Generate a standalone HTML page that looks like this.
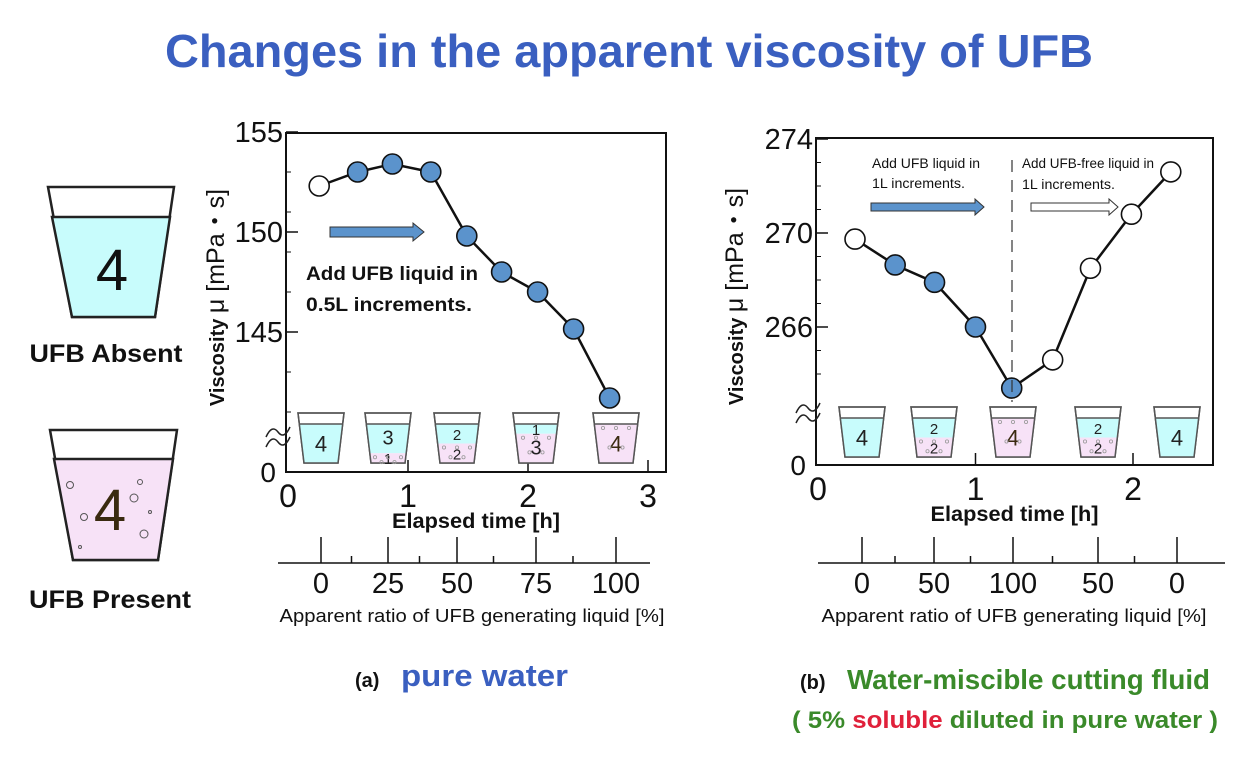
<!DOCTYPE html>
<html><head><meta charset="utf-8">
<style>
html,body{margin:0;padding:0;background:#fff;}
svg{display:block;font-family:"Liberation Sans",sans-serif;}
</style></head>
<body>
<svg id="fig" width="1256" height="776" viewBox="0 0 1256 776" xmlns="http://www.w3.org/2000/svg">
<text x="629" y="67" text-anchor="middle" font-size="46" font-weight="bold" fill="#3a5fc0" textLength="928" lengthAdjust="spacingAndGlyphs">Changes in the apparent viscosity of UFB</text>

<g>
<polygon points="48,187 174,187 155,317 72,317" fill="#fff" stroke="#222" stroke-width="2.5"/>
<polygon points="52,217 170,217 155,317 72,317" fill="#c8fcfc" stroke="#222" stroke-width="2.5"/>
<text x="112" y="290" text-anchor="middle" font-size="58" fill="#111">4</text>
</g>
<text x="106" y="362" text-anchor="middle" font-size="25" font-weight="bold" fill="#111" textLength="153" lengthAdjust="spacingAndGlyphs">UFB Absent</text>
<g>
<polygon points="50,430 177,430 158,560 73,560" fill="#fff" stroke="#222" stroke-width="2.5"/>
<polygon points="54,459 173,459 158,560 73,560" fill="#f7e2f7" stroke="#222" stroke-width="2.5"/>
<text x="110" y="530" text-anchor="middle" font-size="58" fill="#3a2a10">4</text>
<g fill="none" stroke="#555" stroke-width="1">
<circle cx="70" cy="485" r="3.5"/><circle cx="140" cy="482" r="2.5"/><circle cx="134" cy="498" r="4"/><circle cx="84" cy="517" r="3.5"/><circle cx="150" cy="512" r="1.5"/><circle cx="144" cy="534" r="4"/><circle cx="80" cy="547" r="1.5"/>
</g>
</g>
<text x="110" y="608" text-anchor="middle" font-size="25" font-weight="bold" fill="#111" textLength="162" lengthAdjust="spacingAndGlyphs">UFB Present</text>

<g id="chartA"></g>
<g id="chartB"></g>

<text x="355" y="687" font-size="20" font-weight="bold" fill="#111">(a)</text>
<text x="401" y="686" font-size="31" font-weight="bold" fill="#3a5fc0" textLength="167" lengthAdjust="spacingAndGlyphs">pure water</text>
<text x="800" y="689" font-size="20" font-weight="bold" fill="#111">(b)</text>
<text x="847" y="689" font-size="28" font-weight="bold" fill="#3a8a2a" textLength="363" lengthAdjust="spacingAndGlyphs">Water-miscible cutting fluid</text>
<text x="792" y="728" font-size="24" font-weight="bold" fill="#3a8a2a" textLength="426" lengthAdjust="spacingAndGlyphs">( 5% <tspan fill="#e0203a">soluble</tspan> diluted in pure water )</text>
</svg>
<script>
// Chart A data
const timeA = [0.26, 0.58, 0.87, 1.19, 1.49, 1.78, 2.08, 2.38, 2.68];
const viscA = [152.3, 153.0, 153.4, 153.0, 149.8, 148.0, 147.0, 145.15, 141.7];
const filledA = [false, true, true, true, true, true, true, true, true];
const yTicksA = [155, 150, 145];
const xTicksA = [0, 1, 2, 3];
const ratioLabelsA = ["0", "25", "50", "75", "100"];
const cupBlueA = [4, 3, 2, 1, 0];
// Chart B data
const timeB = [0.235, 0.49, 0.74, 1.0, 1.23, 1.49, 1.73, 1.99, 2.24];
const viscB = [269.74, 268.64, 267.9, 266.0, 263.4, 264.6, 268.5, 270.8, 272.6];
const filledB = [false, true, true, true, true, false, false, false, false];
const yTicksB = [274, 270, 266];
const xTicksB = [0, 1, 2];
const ratioLabelsB = ["0", "50", "100", "50", "0"];
const cupBlueB = [4, 2, 0, 2, 4];

const NS = "http://www.w3.org/2000/svg";
function mk(parent, tag, attrs, text) {
  const e = document.createElementNS(NS, tag);
  for (const k in attrs) e.setAttribute(k, attrs[k]);
  if (text !== undefined) e.textContent = text;
  parent.appendChild(e);
  return e;
}
function drawCup(g, cx, top, bot, blue, name) {
  const cg = mk(g, "g", {});
  
  
  const wT = 23, wB = 17, liq = top + 11;
  mk(cg, "polygon", {points: `${cx-wT},${top} ${cx+wT},${top} ${cx+wB},${bot} ${cx-wB},${bot}`, fill: "#fff", stroke: "#555", "stroke-width": 1.5});
  const h = bot - liq;
  const split = liq + h * blue / 4;
  const wAt = y => wT - (wT - wB) * (y - top) / (bot - top);
  if (blue > 0) mk(cg, "polygon", {points: `${cx-wAt(liq)},${liq} ${cx+wAt(liq)},${liq} ${cx+wAt(split)},${split} ${cx-wAt(split)},${split}`, fill: "#c8fcfc"});
  if (blue < 4) mk(cg, "polygon", {points: `${cx-wAt(split)},${split} ${cx+wAt(split)},${split} ${cx+wB},${bot} ${cx-wB},${bot}`, fill: "#f7e2f7"});
  mk(cg, "polygon", {points: `${cx-wT},${top} ${cx+wT},${top} ${cx+wB},${bot} ${cx-wB},${bot}`, fill: "none", stroke: "#555", "stroke-width": 1.5});
  mk(cg, "line", {x1: cx-wAt(liq), y1: liq, x2: cx+wAt(liq), y2: liq, stroke: "#555", "stroke-width": 1.5});
  if (blue === 4 || blue === 0) {
    mk(cg, "text", {x: cx, y: liq + h/2 + 8, "text-anchor": "middle", "font-size": 22, fill: blue ? "#222" : "#3a2a10"}, "4");
  } else {
    mk(cg, "text", {x: cx, y: (liq + split)/2 + 6, "text-anchor": "middle", "font-size": blue>=3?20:15, fill: "#222"}, String(blue));
    mk(cg, "text", {x: cx, y: (split + bot)/2 + 6, "text-anchor": "middle", "font-size": blue<=1?20:15, fill: "#222"}, String(4 - blue));
  }
  if (blue < 4) {
    for (let i = 0; i < 5; i++) mk(cg, "circle", {cx: cx - 13 + i*6.5, cy: split + 4 + (i%2)*((bot-split)*0.5), r: 1.6, fill: "none", stroke: "#999", "stroke-width": 0.8});
  }
}
function squiggle(g, x, y) {
  const s = mk(g, "g", {});
  
  
  for (const dy of [-5, 5]) mk(s, "path", {d: `M${x-12},${y+dy+5} Q${x-6},${y+dy-8} ${x},${y+dy} T${x+12},${y+dy-5}`, fill: "none", stroke: "#222", "stroke-width": 1.5});
}

function drawChart(g, cfg) {
  const X = t => cfg.x0 + t * cfg.px;
  const Y = v => cfg.yRef - (v - cfg.vRef) * cfg.py;
  mk(g, "rect", {x: cfg.L, y: cfg.T, width: cfg.R - cfg.L, height: cfg.B - cfg.T, fill: "none", stroke: "#111", "stroke-width": 2});
  for (let v = cfg.yTicks[cfg.yTicks.length-1] - cfg.minorStep*2; v <= cfg.yTicks[0]; v += cfg.minorStep) {
    const y = Y(v); if (y < cfg.T || y > cfg.B - 30) continue;
    mk(g, "line", {x1: cfg.L, y1: y, x2: cfg.L + 5, y2: y, stroke: "#111", "stroke-width": 1});
  }
  cfg.yTicks.forEach(v => {
    const y = Y(v);
    const t = mk(g, "line", {x1: cfg.L, y1: y, x2: cfg.L + 12, y2: y, stroke: "#111", "stroke-width": 1.5});
    
    
    const l = mk(g, "text", {x: cfg.L - 3, y: y + 10, "text-anchor": "end", "font-size": 29, fill: "#111"}, String(v));
    
    
  });
  const z = mk(g, "text", {x: cfg.L - 10, y: cfg.B + 10, "text-anchor": "end", "font-size": 28, fill: "#111"}, "0");
  
  
  squiggle(g, cfg.L - 8, cfg.breakY);
  cfg.xTicks.forEach(t => {
    const x = X(t);
    if (t > 0 && x < cfg.R) mk(g, "line", {x1: x, y1: cfg.B, x2: x, y2: cfg.B - 12, stroke: "#111", "stroke-width": 1.5});
    const l = mk(g, "text", {x: x, y: cfg.B + 35, "text-anchor": "middle", "font-size": 32, fill: "#111"}, String(t));
    
    
  });
  const xt = mk(g, "text", {x: (cfg.L + cfg.R)/2, y: cfg.B + 56, "text-anchor": "middle", "font-size": 21, "font-weight": "bold", fill: "#111", textLength: 168, lengthAdjust: "spacingAndGlyphs"}, "Elapsed time [h]");
  
  
  const yt = mk(g, "text", {transform: `translate(${cfg.yTitleX},${(cfg.T+cfg.B)/2 - 5}) rotate(-90)`, "text-anchor": "middle", "font-size": 20, fill: "#111"});
  
  
  mk(yt, "tspan", {"font-weight": "bold"}, "Viscosity ");
  mk(yt, "tspan", {"font-size": 25}, "μ [mPa・s]");
  cfg.cupX.forEach((cx, i) => drawCup(g, cx, cfg.cupTop, cfg.cupBot, cfg.cupBlue[i], 'mixture-cup'));
  const pts = cfg.times.map((t, i) => `${X(t)},${Y(cfg.vals[i])}`).join(" ");
  const ln = mk(g, "polyline", {points: pts, fill: "none", stroke: "#111", "stroke-width": 2.5});
  
  
  cfg.times.forEach((t, i) => {
    const c = mk(g, "circle", {cx: X(t), cy: Y(cfg.vals[i]), r: 10, fill: cfg.filled[i] ? "#5b93cc" : "#fff", stroke: "#111", "stroke-width": 1.6});
    
    
  });
  const sa = mk(g, "g", {});
  
  
  mk(sa, "line", {x1: cfg.sL, y1: 563, x2: cfg.sR, y2: 563, stroke: "#111", "stroke-width": 1.5});
  cfg.cupX.forEach((x, i) => {
    mk(sa, "line", {x1: x, y1: 563, x2: x, y2: 537, stroke: "#111", "stroke-width": 1.5});
    if (i < cfg.cupX.length - 1) { const m = (x + cfg.cupX[i+1]) / 2 - 3; mk(sa, "line", {x1: m, y1: 563, x2: m, y2: 556, stroke: "#111", "stroke-width": 1.5}); }
    const l = mk(sa, "text", {x: x, y: 593, "text-anchor": "middle", "font-size": 29, fill: "#111"}, cfg.ratioLabels[i]);
    
    
  });
  const rt = mk(sa, "text", {x: cfg.rtX, y: 622, "text-anchor": "middle", "font-size": 18, fill: "#111", textLength: cfg.rtW, lengthAdjust: "spacingAndGlyphs"}, "Apparent ratio of UFB generating liquid [%]");
  
  
}

const gA = document.getElementById("chartA");
drawChart(gA, {L: 286, R: 666, T: 133, B: 472, x0: 288, px: 120, yRef: 232, vRef: 150, py: 20, minorStep: 2,
  yTicks: yTicksA, xTicks: xTicksA, times: timeA, vals: viscA, filled: filledA, yTitleX: 224, breakY: 437,
  cupX: [321, 388, 457, 536, 616], cupTop: 413, cupBot: 463, cupBlue: cupBlueA, ratioLabels: ratioLabelsA, sL: 278, sR: 650, rtX: 472, rtW: 385});
(function(){
  const a = mk(gA, "polygon", {points: "330,227 413,227 413,223 424,232 413,241 413,237 330,237", fill: "#5b93cc", stroke: "#333", "stroke-width": 1});
  
  
  const t1 = mk(gA, "text", {x: 306, y: 280, "font-size": 19, "font-weight": "bold", fill: "#111", textLength: 172, lengthAdjust: "spacingAndGlyphs"}, "Add UFB liquid in");
  
  
  const t2 = mk(gA, "text", {x: 306, y: 311, "font-size": 19, "font-weight": "bold", fill: "#111", textLength: 166, lengthAdjust: "spacingAndGlyphs"}, "0.5L increments.");
  
  
})();

const gB = document.getElementById("chartB");
drawChart(gB, {L: 816, R: 1213, T: 138, B: 465, x0: 818, px: 157.5, yRef: 233, vRef: 270, py: 23.5, minorStep: 1,
  yTicks: yTicksB, xTicks: xTicksB, times: timeB, vals: viscB, filled: filledB, yTitleX: 743, breakY: 413,
  cupX: [862, 934, 1013, 1098, 1177], cupTop: 407, cupBot: 457, cupBlue: cupBlueB, ratioLabels: ratioLabelsB, sL: 818, sR: 1225, rtX: 1014, rtW: 385});
(function(){
  const d = mk(gB, "line", {x1: 1012, y1: 160, x2: 1012, y2: 402, stroke: "#333", "stroke-width": 1.2, "stroke-dasharray": "12,8"});
  
  
  const a = mk(gB, "polygon", {points: "871,203 975,203 975,199 984,207 975,215 975,211 871,211", fill: "#5b93cc", stroke: "#333", "stroke-width": 1});
  
  
  const b = mk(gB, "polygon", {points: "1031,203 1109,203 1109,199 1118,207 1109,215 1109,211 1031,211", fill: "#fff", stroke: "#333", "stroke-width": 1});
  
  
  const lines = [[872,168,"Add UFB liquid in",108],[872,188,"1L increments.",93],[1022,168,"Add UFB-free liquid in",132],[1022,189,"1L increments.",93]];
  lines.forEach(l => {
    const t = mk(gB, "text", {x: l[0], y: l[1], "font-size": 14, fill: "#111", textLength: l[3], lengthAdjust: "spacingAndGlyphs"}, l[2]);
    
    
  });
})();
</script>
</body></html>
